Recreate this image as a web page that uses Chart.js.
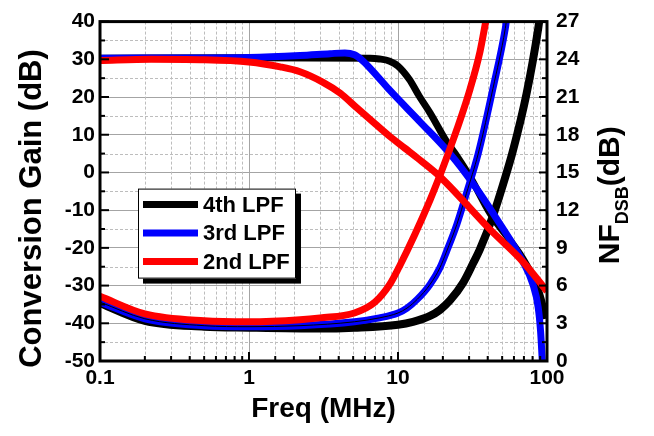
<!DOCTYPE html>
<html><head><meta charset="utf-8">
<script src="https://cdn.jsdelivr.net/npm/chart.js@4/dist/chart.umd.min.js"></script>
<style>html,body{margin:0;padding:0;background:#fff}canvas{display:block}</style>
</head><body>
<canvas id="c" width="654" height="436"></canvas>
<script>
const FONT = "'Liberation Sans', Arial, Helvetica, sans-serif";
const seriesLabels = ['4th LPF', '3rd LPF', '2nd LPF'];
const seriesColors = ['#000000', '#0000ff', '#ff0000'];
const xTickLabels = [0.1, 1, 10, 100];
const gainTickValues = [-50, -40, -30, -20, -10, 0, 10, 20, 30, 40];
const nfTickValues = [0, 3, 6, 9, 12, 15, 18, 21, 24, 27];

// Conversion gain (dB), left axis
const gain4Freq = [0.1, 1, 6.5, 7.5, 8.8, 10, 11.9, 13.9, 16.4, 21.1, 24.8, 30.4, 41.4, 69, 85.8, 94, 98];
const gain4     = [30.3, 30.4, 30.3, 30.1, 29.5, 28.2, 24.7, 20.2, 15.8, 8.3, 4.4, -1.1, -10.8, -22.9, -30.2, -35.4, -38.8];
const gain3Freq = [0.1, 1, 2.2, 3.5, 4.4, 5.1, 5.8, 7.2, 8.8, 14, 22.4, 31.8, 46.3, 69, 80.5, 87.3, 90.5, 93];
const gain3     = [30.3, 30.5, 31.0, 31.5, 31.7, 31.2, 29.6, 25.7, 21.8, 13.5, 4.9, -2.9, -12.5, -23.7, -29.7, -35.8, -42, -50];
const gain2Freq = [0.1, 0.22, 0.47, 1, 1.62, 2.2, 3.14, 4.1, 5.3, 7.0, 8.8, 11.1, 14, 19.1, 41.4, 69, 100];
const gain2     = [29.7, 30.0, 29.9, 29.3, 28.0, 26.7, 23.9, 21.0, 17.1, 12.95, 9.57, 6.45, 3.33, -1.1, -15.1, -23.7, -31.5];

// NF_DSB (dB), right axis
const nf4Freq = [0.1, 0.2, 0.5, 1, 3, 5.1, 10, 12.6, 16.4, 19.1, 22.4, 27.4, 31.8, 35.5, 43.4, 50.5, 59, 73, 87.3, 88.6];
const nf4     = [4.6, 3.2, 2.73, 2.65, 2.58, 2.65, 2.89, 3.12, 3.59, 4.06, 4.84, 6.24, 7.73, 8.9, 11.55, 13.97, 16.7, 21.3, 26.45, 27];
const nf3Freq = [0.1, 0.2, 0.5, 1, 2.2, 5.1, 7.5, 10, 11.5, 13.5, 16.4, 19.1, 21.1, 24.8, 28.8, 34.5, 43.4, 52.5, 53.3];
const nf3     = [4.68, 3.36, 2.81, 2.73, 2.81, 3.12, 3.43, 3.82, 4.21, 4.92, 6.09, 7.41, 8.66, 10.85, 13.34, 16.47, 21.69, 26.45, 27];
const nf2Freq = [0.1, 0.2, 0.5, 1, 2.2, 3.0, 5.1, 7.0, 8.8, 10.2, 12.9, 16.4, 19.1, 21.7, 24.8, 30.4, 35.5, 38.8];
const nf2     = [5.15, 3.75, 3.2, 3.12, 3.28, 3.43, 3.82, 4.68, 6.09, 7.5, 10.0, 12.8, 14.75, 16.5, 18.4, 21.6, 24.6, 27];

const pts = (f, v) => f.map((x, i) => ({x: x, y: v[i]}));
const isDecade = v => Math.abs(Math.log10(v) - Math.round(Math.log10(v))) < 1e-6;
const MAJOR = '#a4a4a4', MINOR = '#bdbdbd';

function ds(label, data, color, axis, width, order) {
  return {label, data, borderColor: color, backgroundColor: color, yAxisID: axis, xAxisID: 'x',
    borderWidth: width, pointRadius: 0, pointHoverRadius: 0, showLine: true, fill: false,
    cubicInterpolationMode: 'monotone', clip: 0, order};
}

const datasets = [
  ds(seriesLabels[2], pts(gain2Freq, gain2), seriesColors[2], 'y', 7, 1),
  ds(seriesLabels[1], pts(gain3Freq, gain3), seriesColors[1], 'y', 7, 3),
  ds(seriesLabels[0], pts(gain4Freq, gain4), seriesColors[0], 'y', 7, 5),
  ds(seriesLabels[2] + ' NF', pts(nf2Freq, nf2), seriesColors[2], 'y1', 7, 0),
  ds(seriesLabels[1] + ' NF', pts(nf3Freq, nf3), seriesColors[1], 'y1', 7, 2),
  ds(seriesLabels[1] + ' NF sim', pts(nf3Freq, nf3), '#000000', 'y1', 1, 1.5),
  ds(seriesLabels[0] + ' NF', pts(nf4Freq, nf4), seriesColors[0], 'y1', 8, 4)
];

const decor = {
  id: 'decor',
  beforeDatasetsDraw(chart) {
    const {ctx, chartArea: a, scales} = chart;
    ctx.save();
    ctx.strokeStyle = MINOR;
    ctx.lineWidth = 1;
    ctx.setLineDash([3, 2]);
    scales.x.ticks.forEach(t => {
      if (isDecade(t.value)) return;
      const px = Math.round(scales.x.getPixelForValue(t.value)) + 0.5;
      ctx.beginPath(); ctx.moveTo(px, a.top); ctx.lineTo(px, a.bottom); ctx.stroke();
    });
    scales.ym.ticks.forEach(t => {
      if (t.value % 10 === 0) return;
      const py = Math.round(scales.y.getPixelForValue(t.value)) + 0.5;
      ctx.beginPath(); ctx.moveTo(a.left, py); ctx.lineTo(a.right, py); ctx.stroke();
    });
    ctx.restore();
  },
  afterDatasetsDraw(chart) {
    const {ctx, chartArea: a, scales} = chart;
    ctx.save();
    ctx.strokeStyle = '#000';
    ctx.lineWidth = 2;
    const line = (x1, y1, x2, y2) => { ctx.beginPath(); ctx.moveTo(x1, y1); ctx.lineTo(x2, y2); ctx.stroke(); };
    scales.x.ticks.forEach(t => {
      const px = scales.x.getPixelForValue(t.value);
      const len = isDecade(t.value) ? 9 : 5;
      line(px, a.bottom, px, a.bottom - len);
    });
    scales.ym.ticks.forEach(t => {
      const py = scales.y.getPixelForValue(t.value);
      const len = (t.value % 10 === 0) ? 9 : 5;
      line(a.left, py, a.left + len, py);
    });
    for (let i = 0; i < nfTickValues.length; i++) {
      const py = scales.y1.getPixelForValue(nfTickValues[i]);
      line(a.right, py, a.right - 8, py);
      if (i < nfTickValues.length - 1) {
        const pm = scales.y1.getPixelForValue((nfTickValues[i] + nfTickValues[i + 1]) / 2);
        line(a.right, pm, a.right - 5, pm);
      }
    }
    ctx.lineWidth = 3;
    ctx.strokeRect(a.left, a.top, a.right - a.left, a.bottom - a.top);

    // legend
    const lx = a.left + 38, ly = a.top + 167, lw = 158, lh = 90;
    ctx.fillStyle = '#000';
    ctx.fillRect(lx + 5, ly + 5, lw, lh);
    ctx.fillStyle = '#fff';
    ctx.fillRect(lx, ly, lw, lh);
    ctx.lineWidth = 1;
    ctx.strokeStyle = '#000';
    ctx.strokeRect(lx + 0.5, ly + 0.5, lw - 1, lh - 1);
    const legendItems = [2, 1, 0].map(i => chart.data.datasets[i]);
    legendItems.forEach((d, k) => {
      const ry = ly + 16 + k * 28.5;
      ctx.strokeStyle = d.borderColor;
      ctx.lineWidth = 7;
      line(lx + 5, ry, lx + 60, ry);
      ctx.fillStyle = '#000';
      ctx.font = 'bold 22px ' + FONT;
      ctx.textBaseline = 'middle';
      ctx.textAlign = 'left';
      ctx.fillText(d.label, lx + 65, ry + 1);
    });

    // right axis title NF_DSB (dB)
    ctx.fillStyle = '#000';
    ctx.textBaseline = 'alphabetic';
    const big = 'bold 30px ' + FONT, small = 'bold 18px ' + FONT;
    ctx.font = big; const w1 = ctx.measureText('NF').width; const w3 = ctx.measureText('(dB)').width;
    ctx.font = small; const w2 = ctx.measureText('DSB').width;
    const total = w1 + w2 + w3;
    const cy = (a.top + a.bottom) / 2 + 4;
    ctx.translate(a.right + 72, cy + total / 2);
    ctx.rotate(-Math.PI / 2);
    ctx.font = big; ctx.fillText('NF', 0, 0);
    ctx.font = small; ctx.fillText('DSB', w1, 9);
    ctx.font = big; ctx.fillText('(dB)', w1 + w2, 0);
    ctx.restore();
  }
};

const tickFont = {family: FONT, size: 21, weight: 'bold'};
new Chart(document.getElementById('c'), {
  type: 'scatter',
  data: {datasets},
  options: {
    responsive: false, animation: false, devicePixelRatio: 1,
    layout: {padding: {top: 15, left: 0, right: 0, bottom: 0}},
    plugins: {legend: {display: false}, tooltip: {enabled: false}},
    scales: {
      x: {
        type: 'logarithmic', position: 'bottom', min: 0.1, max: 100,
        ticks: {autoSkip: false, maxRotation: 0, color: '#000', font: tickFont, padding: 5,
          callback: v => { const m = xTickLabels.find(t => Math.abs(t - v) < 1e-9 * Math.max(1, t)); return m !== undefined ? String(m) : ''; }},
        grid: {color: c => (c.tick && isDecade(c.tick.value)) ? MAJOR : 'rgba(0,0,0,0)', drawTicks: false, lineWidth: 1},
        border: {display: false},
        title: {display: true, text: 'Freq (MHz)', color: '#000', font: {family: FONT, size: 28, weight: 'bold'}, padding: {top: 0, bottom: 10}},
        afterFit: s => { s.height = 75; }
      },
      ym: {
        type: 'linear', position: 'left', min: -50, max: 40,
        ticks: {display: false, stepSize: 5},
        grid: {display: false},
        border: {display: false},
        afterFit: s => { s.width = 0; }
      },
      y: {
        type: 'linear', position: 'left', min: gainTickValues[0], max: gainTickValues[gainTickValues.length - 1],
        ticks: {stepSize: 10, color: '#000', font: tickFont, padding: 5},
        grid: {color: MAJOR, drawTicks: false},
        border: {display: false},
        title: {display: true, text: 'Conversion Gain (dB)    ', color: '#000', font: {family: FONT, size: 31, weight: 'bold'}, padding: {top: 14, bottom: 0}},
        afterFit: s => { s.width = 100; }
      },
      y1: {
        type: 'linear', position: 'right', min: nfTickValues[0], max: nfTickValues[nfTickValues.length - 1],
        ticks: {stepSize: 3, color: '#000', font: tickFont, padding: 9},
        grid: {drawOnChartArea: false, drawTicks: false},
        border: {display: false},
        afterFit: s => { s.width = 107; }
      }
    }
  },
  plugins: [decor]
});
</script>
</body></html>
